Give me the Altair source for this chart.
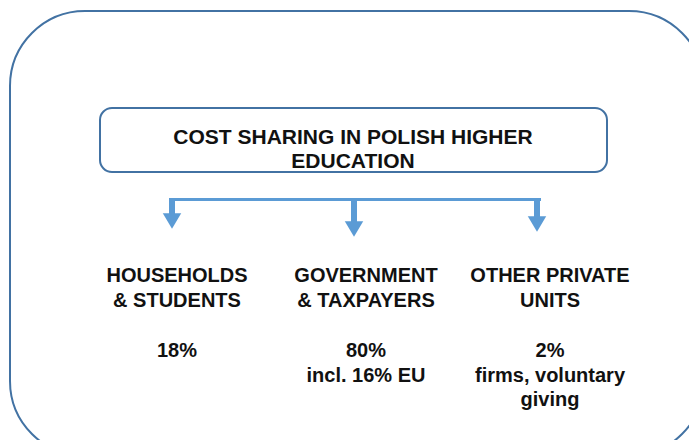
import altair as alt
import pandas as pd

# ---- content ----
title_lines = ["COST SHARING IN POLISH HIGHER", "EDUCATION"]
category_lines = [["HOUSEHOLDS", "& STUDENTS"],
                  ["GOVERNMENT", "& TAXPAYERS"],
                  ["OTHER PRIVATE", "UNITS"]]
shares = ["18%", "80%", "2%"]
notes = [[], ["incl. 16% EU"], ["firms, voluntary", "giving"]]

# ---- layout (page pixel coordinates) ----
W, H = 681, 432
X0, Y0 = 8, 8
column_x = [177, 366, 550]
arrow_x = [172, 354, 537]
arrow_head_y = [221, 229, 224]
connector_y = 199.5
title_x = 353
title_baselines = [144, 168]
label_baselines = [282, 307]
share_baseline = 357
note_baselines = [382, 406]
outer_box = dict(x=10, x2=704, y=11, y2=456)
inner_box = dict(x=100, x2=607, y=108, y2=172)

BOX_COLOR = "#4272a3"
ARROW_COLOR = "#5b9bd5"
TEXT_COLOR = "#111111"
FONT = "Liberation Sans"

xs = alt.Scale(domain=[X0, X0 + W], nice=False, zero=False)
ys = alt.Scale(domain=[Y0, Y0 + H], nice=False, zero=False, reverse=True)


def X(f):
    return alt.X(f, type="quantitative", scale=xs, axis=None)


def Y(f):
    return alt.Y(f, type="quantitative", scale=ys, axis=None)


outer = alt.Chart(pd.DataFrame([outer_box])).mark_rect(
    fill="white", stroke=BOX_COLOR, strokeWidth=2, cornerRadius=75
).encode(x=X("x"), x2="x2", y=Y("y"), y2="y2")

inner = alt.Chart(pd.DataFrame([inner_box])).mark_rect(
    fill="white", stroke=BOX_COLOR, strokeWidth=2, cornerRadius=12
).encode(x=X("x"), x2="x2", y=Y("y"), y2="y2")

conn_df = pd.DataFrame([dict(x=min(arrow_x) - 3, x2=max(arrow_x) + 4, y=connector_y)])
connector = alt.Chart(conn_df).mark_rule(color=ARROW_COLOR, strokeWidth=3).encode(
    x=X("x"), x2="x2", y=Y("y"))

stem_df = pd.DataFrame(dict(x=arrow_x, y=[connector_y - 1.5] * 3,
                            y2=[h - 7 for h in arrow_head_y]))
stems = alt.Chart(stem_df).mark_rule(color=ARROW_COLOR, strokeWidth=6).encode(
    x=X("x"), y=Y("y"), y2="y2")

head_df = pd.DataFrame(dict(x=arrow_x, y=arrow_head_y))
heads = alt.Chart(head_df).mark_point(
    shape="M -1 -0.85 L 1 -0.85 L 0 0.85 Z", filled=True, size=340,
    color=ARROW_COLOR, opacity=1, strokeWidth=0
).encode(x=X("x"), y=Y("y"))

rows = []
for line, yb in zip(title_lines, title_baselines):
    rows.append(dict(x=title_x, y=yb, text=line, size=21))
for cx, lines in zip(column_x, category_lines):
    for line, yb in zip(lines, label_baselines):
        rows.append(dict(x=cx, y=yb, text=line, size=20))
for cx, s in zip(column_x, shares):
    rows.append(dict(x=cx, y=share_baseline, text=s, size=20))
for cx, lines in zip(column_x, notes):
    for line, yb in zip(lines, note_baselines):
        rows.append(dict(x=cx, y=yb, text=line, size=20))
text_df = pd.DataFrame(rows)

texts = alt.Chart(text_df).mark_text(
    font=FONT, fontWeight="bold", color=TEXT_COLOR,
    align="center", baseline="alphabetic"
).encode(x=X("x"), y=Y("y"), text="text:N",
         size=alt.Size("size:Q", scale=None, legend=None))

chart = alt.layer(outer, inner, connector, stems, heads, texts).properties(
    width=W, height=H, padding=0, autosize="none", background="white"
).configure_view(stroke=None)

chart.save("out.html", embed_options={"renderer": "svg", "actions": False})
